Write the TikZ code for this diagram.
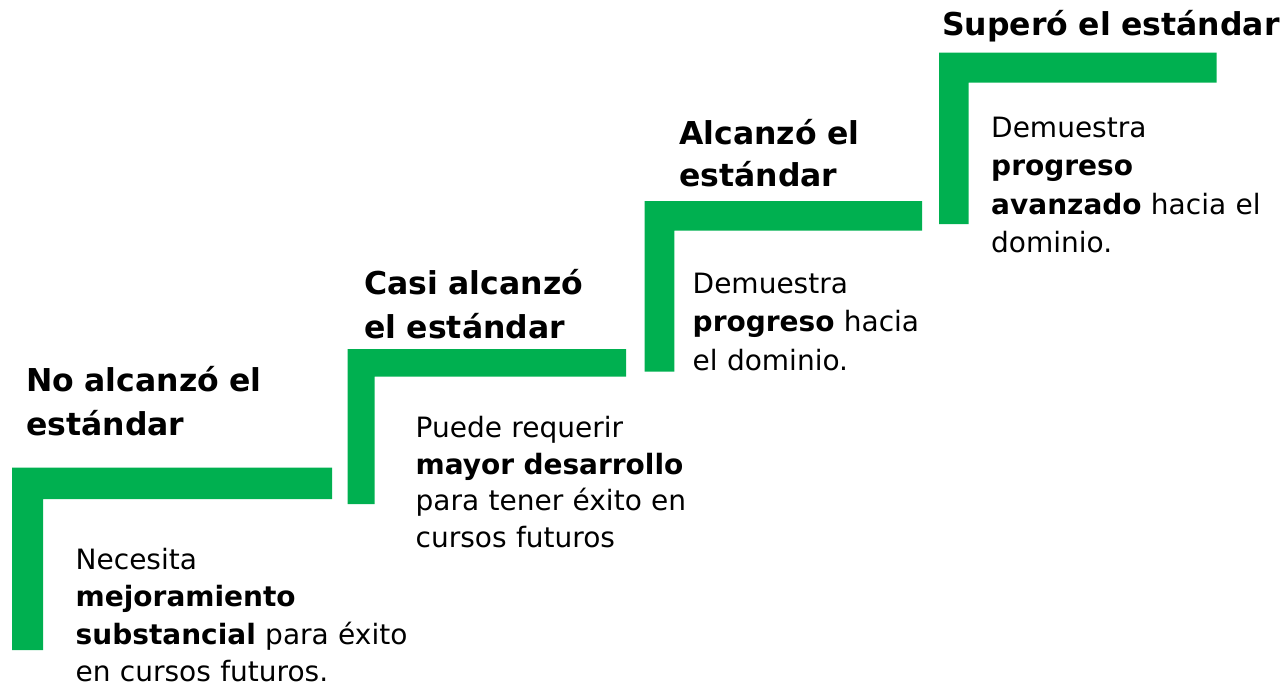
\documentclass[tikz,border=0pt]{standalone}
\usepackage{fontspec}
\setmainfont{DejaVu Sans}
\definecolor{stepgreen}{HTML}{00B050}
\tikzset{
  stair/.style={fill=stepgreen, draw=none},
  titletext/.style={anchor=base west, inner sep=0pt, text width=400pt, align=left,
    font=\fontsize{31.5}{43.5}\selectfont\bfseries},
  desctext/.style={anchor=base west, inner sep=0pt, text width=400pt, align=left,
    font=\fontsize{28}{37.5}\selectfont},
}
\begin{document}
\begin{tikzpicture}[x=1pt,y=-1pt]
\useasboundingbox (0,0) rectangle (1287,688);
% stairs
\fill[stair] (12,467.7) -- (332,467.7) -- (332,499) -- (43,499) -- (43,650) -- (12,650) -- cycle;
\fill[stair] (347.5,349) -- (626,349) -- (626,376.5) -- (374.5,376.5) -- (374.5,504) -- (347.5,504) -- cycle;
\fill[stair] (644.5,201) -- (922,201) -- (922,230.7) -- (674.3,230.7) -- (674.3,371.7) -- (644.5,371.7) -- cycle;
\fill[stair] (939,52.7) -- (1216.5,52.7) -- (1216.5,82.7) -- (968.5,82.7) -- (968.5,224) -- (939,224) -- cycle;
% titles
\node[titletext] (t1) at (26,391.7) {No alcanzó el\\estándar};
\node[titletext, font=\fontsize{31.5}{44.5}\selectfont\bfseries] (t2) at (364,294) {Casi alcanzó\\el estándar};
\node[titletext, font=\fontsize{31.5}{42.7}\selectfont\bfseries] (t3) at (679,144) {Alcanzó el\\estándar};
\node[titletext] (t4) at (942,35) {Superó el estándar};
% descriptions
\node[desctext] (d1) at (75.5,569) {Necesita\\\textbf{mejoramiento}\\\textbf{substancial} para éxito\\en cursos futuros.};
\node[desctext, font=\fontsize{28}{36.5}\selectfont] (d2) at (415.5,437.5) {Puede requerir\\\textbf{mayor desarrollo}\\para tener éxito en\\cursos futuros};
\node[desctext, font=\fontsize{28}{38.5}\selectfont] (d3) at (692.5,293) {Demuestra\\\textbf{progreso} hacia\\el dominio.};
\node[desctext, font=\fontsize{28}{38.6}\selectfont] (d4) at (991,137) {Demuestra\\\textbf{progreso}\\\textbf{avanzado} hacia el\\dominio.};
\end{tikzpicture}
\end{document}
